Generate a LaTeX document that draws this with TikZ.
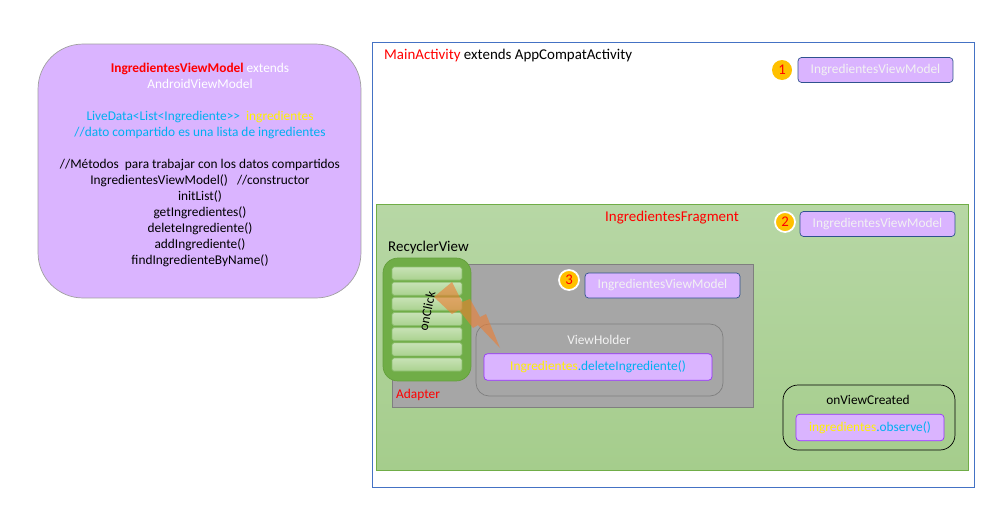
\documentclass[tikz,border=0pt]{standalone}
\usepackage{fontspec}
\setmainfont{Carlito}
\usetikzlibrary{positioning}

\definecolor{vmpurple}{RGB}{218,180,255}
\definecolor{vmedge}{RGB}{47,82,143}
\definecolor{codeedge}{RGB}{153,51,255}
\definecolor{lightgray}{RGB}{242,242,242}
\definecolor{codeblue}{RGB}{0,176,240}
\definecolor{actblue}{RGB}{68,114,196}
\definecolor{fraggreen}{RGB}{112,173,71}
\definecolor{adgray}{RGB}{166,166,166}
\definecolor{adedge}{RGB}{127,127,127}
\definecolor{badgeorange}{RGB}{255,192,0}
\definecolor{boltorange}{RGB}{237,125,49}

\begin{document}
\begin{tikzpicture}[x=0.02cm,y=-0.02cm,
  every node/.style={font=\fontsize{7.6}{9.1}\selectfont},
  title/.style={font=\fontsize{8.5}{10}\selectfont},
  vmbox/.style={draw=vmedge,fill=vmpurple,rounded corners=2pt,minimum width=3.1cm,minimum height=0.5cm,text=lightgray},
  codebox/.style={draw=codeedge,fill=vmpurple,rounded corners=2pt,minimum height=0.53cm},
  badge/.style={circle,fill=badgeorange,text=red,inner sep=0pt,minimum size=0.4cm,font=\fontsize{8.4}{9}\selectfont},
  rowbox/.style={draw={rgb,255:red,140;green,190;blue,110},top color={rgb,255:red,200;green,226;blue,182},bottom color={rgb,255:red,170;green,210;blue,143},rounded corners=1pt,minimum width=1.4cm,minimum height=0.26cm,inner sep=0pt}]
\useasboundingbox (0,0) rectangle (1007,521);
% ViewModel class
\node[draw={rgb,255:red,160;green,160;blue,160},fill=vmpurple,rounded corners=0.9cm,minimum width=6.46cm,minimum height=5.08cm] (vmclass) at (199.5,171) {};
\node[anchor=north,align=center] (vmtext) at (200,57) {%
  {\color{red}\bfseries IngredientesViewModel} {\color{white}extends}\\
  {\color{white}AndroidViewModel}\\
  \mbox{}\\
  {\color{codeblue}LiveData<List<Ingrediente>\mbox{}>}\ \ {\color{yellow}ingredientes}\\
  {\color{codeblue}//dato compartido es una lista de ingredientes}\\
  \mbox{}\\
  //Métodos\ \ para trabajar con los datos compartidos\\
  IngredientesViewModel()\ \ \ //constructor\\
  initList()\\
  getIngredientes()\\
  deleteIngrediente()\\
  addIngrediente()\\
  findIngredienteByName()};
% activity
\draw[actblue] (372,42) rectangle (974,487);
\node[title,anchor=west] (acttitle) at (378,56) {{\color{red}MainActivity} extends AppCompatActivity};
\node[badge] (b1) at (782,70) {1};
\node[vmbox] (vm1) at (875.5,70) {IngredientesViewModel};
% fragment
\draw[fraggreen,top color={rgb,255:red,183;green,215;blue,165},bottom color={rgb,255:red,165;green,205;blue,140}] (376,204) rectangle (968,470);
\node[title] (fragtitle) at (672,218) {\color{red}IngredientesFragment};
\node[badge,draw=white,line width=1pt] (b2) at (785,222) {2};
\node[vmbox] (vm2) at (877.5,224) {IngredientesViewModel};
\node[title,anchor=west] (rvtitle) at (382,248) {RecyclerView};
% adapter
\node[draw=adedge,fill=adgray,minimum width=7.22cm,minimum height=2.86cm] (adarea) at (572.5,335.5) {};
\node[badge,draw=white,line width=1pt] (b3) at (569,280) {3};
\node[vmbox] (vm3) at (662.5,285.5) {IngredientesViewModel};
\node[draw={rgb,255:red,100;green,160;blue,60},fill=fraggreen,rounded corners=0.3cm,minimum width=1.76cm,minimum height=2.46cm] (adapter) at (427,319.5) {};
\foreach \i in {0,...,6}
  \node[rowbox] (row\i) at (427,{273.5+15.17*\i}) {};
\node[rotate=78] (onclick) at (427,311) {onClick};
\node[anchor=west] (adtitle) at (390,395) {\color{red}Adapter};
% view holder
\node[draw=adedge,rounded corners=0.26cm,minimum width=4.94cm,minimum height=1.44cm] (holder) at (599.5,360) {};
\node (holdertitle) at (599,340) {\color{lightgray}ViewHolder};
\node[codebox,minimum width=4.56cm] (delete) at (598,367) {{\color{yellow}Ingredientes}{\color{codeblue}.deleteIngrediente()}};
% bolt
\fill[boltorange,opacity=0.6] (452,282) -- (462,302) -- (470,299) -- (480,317) -- (486,314) -- (500,348) -- (478,325) -- (473,328) -- (459,310) -- (452,314) -- (434,297) -- cycle;
% onViewCreated
\node[draw=black,rounded corners=0.3cm,minimum width=3.44cm,minimum height=1.3cm] (created) at (869,417.5) {};
\node (createdtitle) at (868,400) {onViewCreated};
\node[codebox,minimum width=2.96cm] (observe) at (870,427.5) {{\color{yellow}ingredientes}{\color{codeblue}.observe()}};
\end{tikzpicture}
\end{document}
